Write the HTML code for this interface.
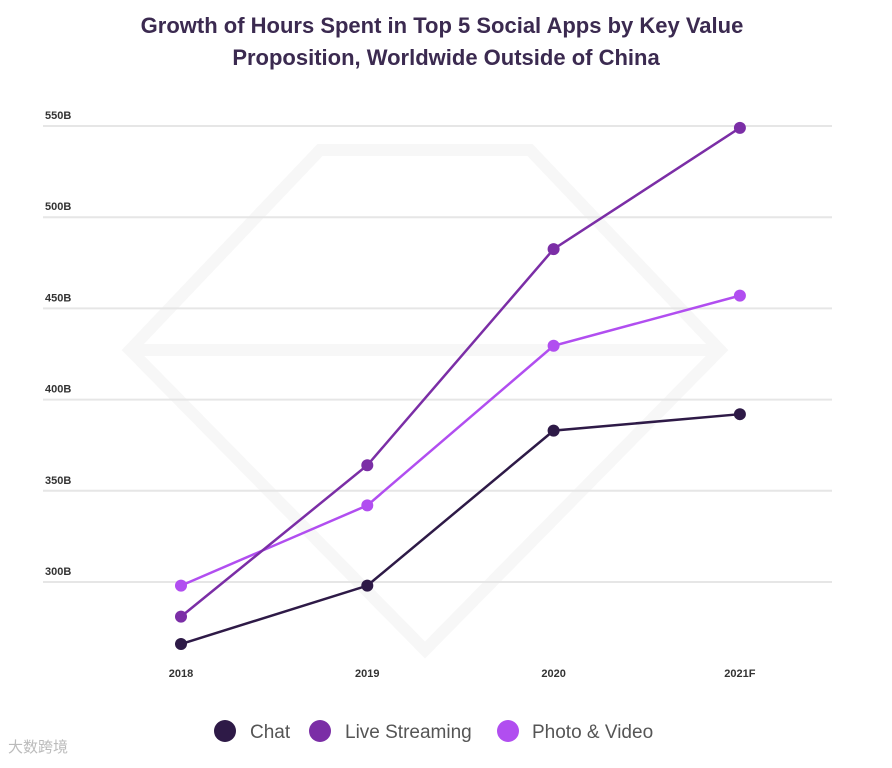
<!DOCTYPE html>
<html><head><meta charset="utf-8"><style>
body{margin:0;background:#fff;width:892px;height:763px;overflow:hidden;font-family:"Liberation Sans","Noto Sans CJK SC",sans-serif}
</style></head><body>
<svg width="892" height="763" id="svg">
<text x="442" y="33" text-anchor="middle" font-size="22" font-weight="bold" fill="#3b2a50">Growth of Hours Spent in Top 5 Social Apps by Key Value</text>
<text x="446" y="65" text-anchor="middle" font-size="22" font-weight="bold" fill="#3b2a50">Proposition, Worldwide Outside of China</text>
<g fill="none" stroke="#f7f7f7" stroke-width="12">
<polygon points="320,150 530,150 720,350 425,650 130,350"/>
<polyline points="130,350 720,350"/>
</g>
<g id="grid"></g><g id="series"></g>
<g font-size="19" fill="#555">
<circle cx="225" cy="731" r="11" fill="#2e1a47"/>
<text x="250" y="738">Chat</text>
<circle cx="320" cy="731" r="11" fill="#7b2ea6"/>
<text x="345" y="738">Live Streaming</text>
<circle cx="508" cy="731" r="11" fill="#b14ef0"/>
<text x="532" y="738">Photo &amp; Video</text>
</g>
<text x="8" y="752" font-size="15" fill="#bbb">大数跨境</text>
</svg>
<script>
const categories=["2018","2019","2020","2021F"];
const yTicks=[300,350,400,450,500,550];
const chat=[266,298,383,392];
const live=[281,364,482.5,549];
const photo=[298,342,429.5,457];
const NS="http://www.w3.org/2000/svg";
function x(i){return 181+i*186.3;}
function y(v){return 582-(v-300)*91.2/50;}
function mk(t,a,p){const e=document.createElementNS(NS,t);for(const k in a)e.setAttribute(k,a[k]);p.appendChild(e);return e;}
const grid=document.getElementById('grid');
yTicks.forEach(v=>{
 const l=mk('line',{x1:43,x2:832,y1:y(v),y2:y(v),stroke:'#e6e6e6','stroke-width':2},grid);
 
 
 const t=mk('text',{x:45,y:y(v)-7,'font-size':11,'font-weight':'bold',fill:'#333'},grid);
 t.textContent=v+'B';
 
 
});
categories.forEach((c,i)=>{
 const t=mk('text',{x:x(i),y:677,'font-size':11,'font-weight':'bold',fill:'#333','text-anchor':'middle'},grid);
 t.textContent=c;
 
 
});
const sg=document.getElementById('series');
[[chat,'#2e1a47','chat'],[photo,'#b14ef0','photo-video'],[live,'#7b2ea6','live-streaming']].forEach(([d,col,n])=>{
 const pl=mk('polyline',{points:d.map((v,i)=>x(i)+','+y(v)).join(' '),fill:'none',stroke:col,'stroke-width':2.5},sg);
 
 
 d.forEach((v,i)=>{
  const c=mk('circle',{cx:x(i),cy:y(v),r:6,fill:col},sg);
  
  
 });
});
</script>
</body></html>
